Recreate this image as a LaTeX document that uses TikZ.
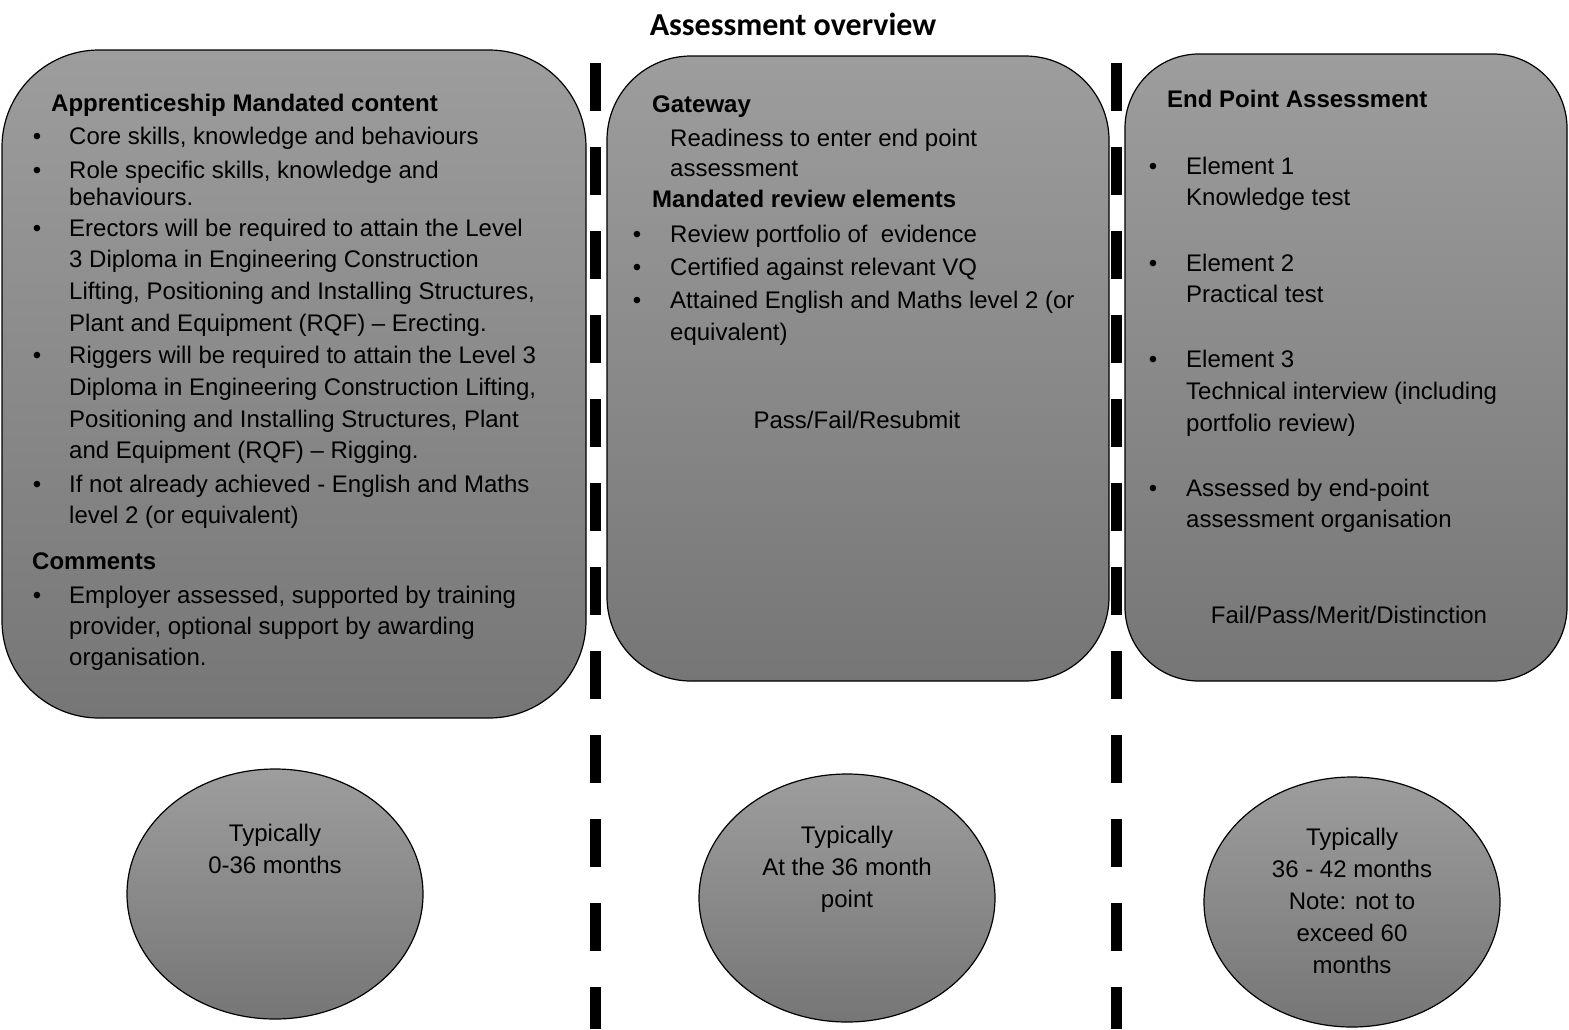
\documentclass[tikz,border=0pt]{standalone}
\usepackage{fontspec}
\setmainfont{Liberation Sans}
\newfontfamily\titlefont{Carlito}
\usetikzlibrary{shapes.geometric}
\definecolor{gtop}{RGB}{157,157,157}
\definecolor{gbot}{RGB}{118,118,118}
\newcommand\fsz{\fontsize{24}{29}\selectfont}
\tikzset{
  panel/.style={draw=black, line width=1.2pt, top color=gtop, bottom color=gbot, inner sep=0pt},
  oval/.style={ellipse, draw=black, line width=1.2pt, top color=gtop, bottom color=gbot, inner sep=0pt, minimum width=296pt, minimum height=250pt},
  t/.style={anchor=base west, inner sep=0pt, font=\fsz},
  tb/.style={anchor=base west, inner sep=0pt, font=\fsz\bfseries},
  tc/.style={anchor=base, inner sep=0pt, font=\fsz},
  bul/.style={anchor=base, inner sep=0pt, font=\fsz},
  divider/.style={line width=11pt, dash pattern=on 48pt off 36pt}
}
\begin{document}
\begin{tikzpicture}[x=1pt,y=-1pt]
\useasboundingbox (0,0) rectangle (1569,1029);
% title
\node[anchor=base, inner sep=0pt, font=\titlefont\fontsize{32}{38}\selectfont\bfseries] (title) at (793,35) {Assessment overview};
% dividers
\coordinate (d1t) at (595,63); \coordinate (d1b) at (595,1029);
\coordinate (d2t) at (1116,63); \coordinate (d2b) at (1116,1029);
\draw[divider] (d1t) -- (d1b);
\draw[divider] (d2t) -- (d2b);
% panels
\node[panel, rounded corners=97pt, minimum width=584pt, minimum height=668pt] (b1) at (294,384) {};
\node[panel, rounded corners=84pt, minimum width=502pt, minimum height=625pt] (b2) at (858,368.5) {};
\node[panel, rounded corners=74pt, minimum width=442pt, minimum height=627pt] (b3) at (1346,367.5) {};
% box 1 text
\node[tb] (h1) at (51,111) {Apprenticeship Mandated content};
\node[bul] (p1) at (37,144) {•};
\node[t] (l1) at (69,144) {Core skills, knowledge and behaviours};
\node[bul] (p2) at (37,178) {•};
\node[t] (l2) at (69,178) {Role specific skills, knowledge and};
\node[t] (l3) at (69,205) {behaviours.};
\node[bul] (p3) at (37,236) {•};
\node[t] (l4) at (69,236) {Erectors will be required to attain the Level};
\node[t] (l5) at (69,267) {3 Diploma in Engineering Construction};
\node[t] (l6) at (69,299) {Lifting, Positioning and Installing Structures,};
\node[t] (l7) at (69,331) {Plant and Equipment (RQF) – Erecting.};
\node[bul] (p4) at (37,363) {•};
\node[t] (l8) at (69,363) {Riggers will be required to attain the Level 3};
\node[t] (l9) at (69,395) {Diploma in Engineering Construction Lifting,};
\node[t] (l10) at (69,427) {Positioning and Installing Structures, Plant};
\node[t] (l11) at (69,458) {and Equipment (RQF) – Rigging.};
\node[bul] (p5) at (37,492) {•};
\node[t] (l12) at (69,492) {If not already achieved - English and Maths};
\node[t] (l13) at (69,523) {level 2 (or equivalent)};
\node[tb] (h2) at (32,569) {Comments};
\node[bul] (p6) at (37,603) {•};
\node[t] (l14) at (69,603) {Employer assessed, supported by training};
\node[t] (l15) at (69,634) {provider, optional support by awarding};
\node[t] (l16) at (69,665) {organisation.};
% box 2 text
\node[tb] (g1) at (652,112) {Gateway};
\node[t] (g2) at (670,146) {Readiness to enter end point};
\node[t] (g3) at (670,176) {assessment};
\node[tb] (g4) at (652,207) {Mandated review elements};
\node[bul] (q1) at (637,242) {•};
\node[t] (g5) at (670,242) {Review portfolio of\ \ evidence};
\node[bul] (q2) at (637,275) {•};
\node[t] (g6) at (670,275) {Certified against relevant VQ};
\node[bul] (q3) at (637,308) {•};
\node[t] (g7) at (670,308) {Attained English and Maths level 2 (or};
\node[t] (g8) at (670,340) {equivalent)};
\node[tc] (g9) at (857,428) {Pass/Fail/Resubmit};
% box 3 text
\node[tb] (e1) at (1167,107) {End Point Assessment};
\node[bul] (r1) at (1153,174) {•};
\node[t] (e2) at (1186,174) {Element 1};
\node[t] (e3) at (1186,205) {Knowledge test};
\node[bul] (r2) at (1153,271) {•};
\node[t] (e4) at (1186,271) {Element 2};
\node[t] (e5) at (1186,302) {Practical test};
\node[bul] (r3) at (1153,367) {•};
\node[t] (e6) at (1186,367) {Element 3};
\node[t] (e7) at (1186,399) {Technical interview (including};
\node[t] (e8) at (1186,431) {portfolio review)};
\node[bul] (r4) at (1153,496) {•};
\node[t] (e9) at (1186,496) {Assessed by end-point};
\node[t] (e10) at (1186,527) {assessment organisation};
\node[tc] (e11) at (1349,623) {Fail/Pass/Merit/Distinction};
% ellipses
\node[oval] (o1) at (275,894) {};
\node[oval, minimum height=248pt] (o2) at (847,898) {};
\node[oval] (o3) at (1352,902) {};
\node[tc] (o1a) at (275,841) {Typically};
\node[tc] (o1b) at (275,873) {0-36 months};
\node[tc] (o2a) at (847,843) {Typically};
\node[tc] (o2b) at (847,875) {At the 36 month};
\node[tc] (o2c) at (847,907) {point};
\node[tc] (o3a) at (1352,845) {Typically};
\node[tc] (o3b) at (1352,877) {36 - 42 months};
\node[tc] (o3c) at (1352,909) {Note: not to};
\node[tc] (o3d) at (1352,941) {exceed 60};
\node[tc] (o3e) at (1352,973) {months};
\end{tikzpicture}
\end{document}
